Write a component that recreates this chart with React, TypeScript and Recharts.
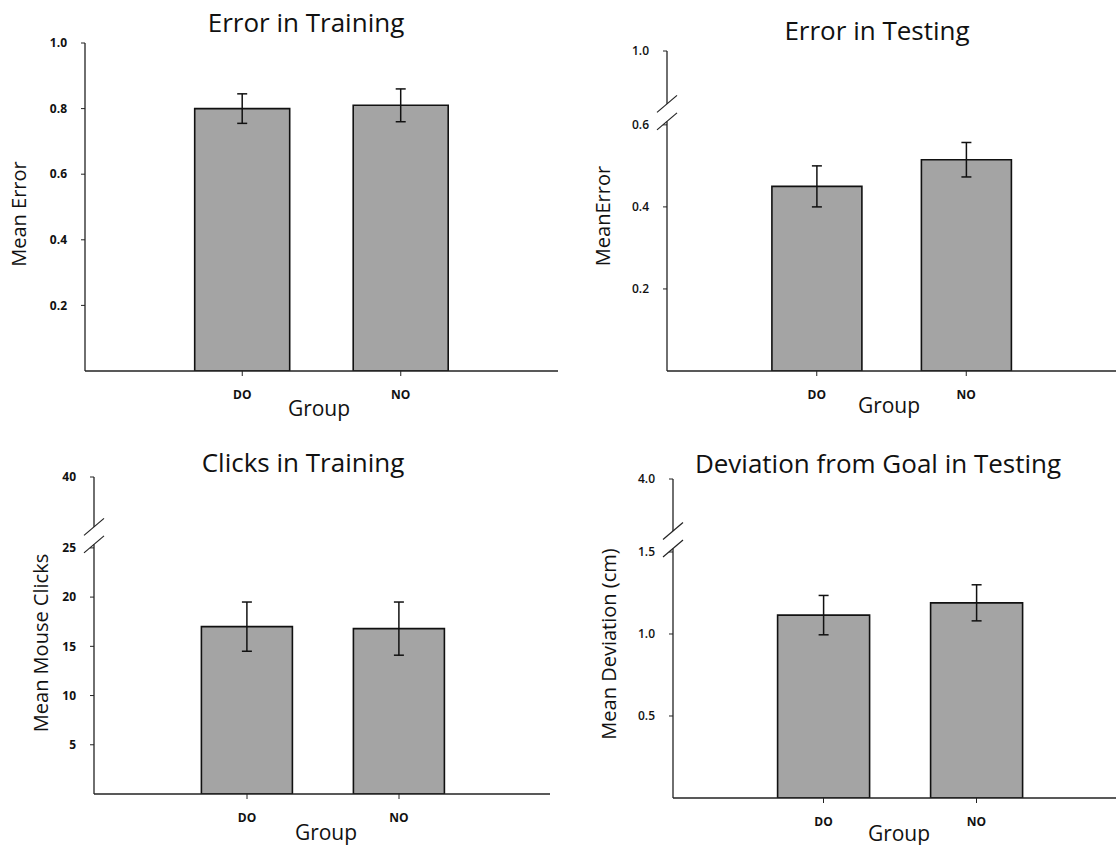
import React from 'react';
import { BarChart, Bar, XAxis, YAxis, ErrorBar } from 'recharts';

// Groups on the x axis
const groups = ['DO', 'NO'];

// Error in Training (mean, error-bar half width)
const trainErrMean = [0.8, 0.81];
const trainErrSE = [0.045, 0.05];

// Error in Testing
const testErrMean = [0.45, 0.515];
const testErrSE = [0.05, 0.042];

// Clicks in Training
const clicksMean = [17.0, 16.8];
const clicksSE = [2.5, 2.7];

// Deviation from Goal in Testing
const devMean = [1.115, 1.19];
const devSE = [0.12, 0.11];

// Y ticks and their printed labels. The last tick of a broken axis sits
// above the break, so its position is on the compressed part of the axis.
const trainErrTicks = [0.2, 0.4, 0.6, 0.8, 1.0];
const trainErrTickLabels = ['0.2', '0.4', '0.6', '0.8', '1.0'];
const testErrTicks = [0.2, 0.4, 0.6, 0.78];
const testErrTickLabels = ['0.2', '0.4', '0.6', '1.0'];
const clicksTicks = [5, 10, 15, 20, 25, 32.2];
const clicksTickLabels = ['5', '10', '15', '20', '25', '40'];
const devTicks = [0.5, 1.0, 1.5, 1.945];
const devTickLabels = ['0.5', '1.0', '1.5', '4.0'];

const FONT = '"Open Sans", "Noto Sans", sans-serif';
const INK = '#111';
const AXIS = '#222';
const BAR_FILL = '#a4a4a4';

const Y_TICK_SIZE = 4;
const Y_TICK_MARGIN = 14;

interface PanelProps {
  title: string;
  yLabel: string;
  means: number[];
  errs: number[];
  ticks: number[];
  tickLabels: string[];
  broken: boolean;
  left: number;
  top: number;
  width: number;
  height: number;
  marginTop: number;
  marginRight: number;
  yAxisWidth: number;
  xAxisHeight: number;
  padLeft: number;
  padRight: number;
  tickWeight: number;
  titleX: number;
  titleY: number;
  yLabelX: number;
  yLabelY: number;
  groupX: number;
  groupY: number;
}

function Panel(p: PanelProps) {
  const data = groups.map((g, i) => ({ group: g, mean: p.means[i], err: p.errs[i] }));
  const breakTick = p.broken ? p.ticks[p.ticks.length - 2] : null;

  const renderYTick = (t: any) => {
    const { x, y, payload } = t;
    const idx = p.ticks.indexOf(payload.value);
    const axisX = x + Y_TICK_SIZE + Y_TICK_MARGIN;
    return (
      <g>
        <text x={x} y={y} dy="0.35em" textAnchor="end" fontSize={12} fontWeight={p.tickWeight}
          fontFamily={FONT} fill={INK}>
          {p.tickLabels[idx]}
        </text>
        {payload.value === breakTick && (
          <g>
            <rect x={axisX - 3} y={y - 21} width={6} height={17.5} fill="#fff" />
            <line x1={axisX - 10} y1={y - 21 + 8.5} x2={axisX + 10} y2={y - 21 - 8.5} stroke={AXIS} strokeWidth={1.2} />
            <line x1={axisX - 10} y1={y - 3.5 + 8.5} x2={axisX + 10} y2={y - 3.5 - 8.5} stroke={AXIS} strokeWidth={1.2} />
          </g>
        )}
      </g>
    );
  };

  return (
    <>
      <div style={{ position: 'absolute', left: p.left, top: p.top }}>
        <BarChart
          width={p.width}
          height={p.height}
          data={data}
          margin={{ top: p.marginTop, right: p.marginRight, left: 0, bottom: 0 }}
          barCategoryGap="20%"
        >
          <XAxis
            dataKey="group"
            height={p.xAxisHeight}
            padding={{ left: p.padLeft, right: p.padRight }}
            interval={0}
            tickSize={5}
            tickMargin={14}
            tick={{ fontSize: 12, fontWeight: 700, fill: INK, fontFamily: FONT }}
            axisLine={{ stroke: AXIS, strokeWidth: 1.3 }}
            tickLine={{ stroke: AXIS }}
          />
          <YAxis
            type="number"
            domain={[0, p.ticks[p.ticks.length - 1]]}
            ticks={p.ticks}
            interval={0}
            allowDataOverflow
            width={p.yAxisWidth}
            tickSize={Y_TICK_SIZE}
            tickMargin={Y_TICK_MARGIN}
            tick={renderYTick}
            axisLine={{ stroke: AXIS, strokeWidth: 1.3 }}
            tickLine={{ stroke: AXIS }}
          />
          <Bar dataKey="mean" fill={BAR_FILL} stroke={INK} strokeWidth={1.6} isAnimationActive={false}>
            <ErrorBar dataKey="err" width={5} stroke={INK} strokeWidth={1.5} isAnimationActive={false} />
          </Bar>
        </BarChart>
      </div>
      <div style={{
        position: 'absolute', left: p.titleX, top: p.titleY, transform: 'translate(-50%, -50%)',
        fontSize: 26, lineHeight: 1, whiteSpace: 'nowrap', color: INK,
      }}>
        {p.title}
      </div>
      <div style={{
        position: 'absolute', left: p.yLabelX, top: p.yLabelY,
        transform: 'translate(-50%, -50%) rotate(-90deg)',
        fontSize: 20, lineHeight: 1, whiteSpace: 'nowrap', color: INK,
      }}>
        {p.yLabel}
      </div>
      <div style={{
        position: 'absolute', left: p.groupX, top: p.groupY, transform: 'translate(-50%, -50%)',
        fontSize: 21, lineHeight: 1, whiteSpace: 'nowrap', color: INK,
      }}>
        Group
      </div>
    </>
  );
}

export default function App() {
  return (
    <div style={{
      position: 'absolute', left: 0, top: 0, width: 1116, height: 845,
      background: '#fff', fontFamily: FONT, overflow: 'hidden',
    }}>
      <Panel
        title="Error in Training" yLabel="Mean Error"
        means={trainErrMean} errs={trainErrSE}
        ticks={trainErrTicks} tickLabels={trainErrTickLabels} broken={false}
        left={0} top={0} width={560} height={425}
        marginTop={43} marginRight={2} yAxisWidth={85} xAxisHeight={54}
        padLeft={78} padRight={78} tickWeight={700}
        titleX={306} titleY={22} yLabelX={19} yLabelY={214} groupX={319} groupY={408}
      />
      <Panel
        title="Error in Testing" yLabel="MeanError"
        means={testErrMean} errs={testErrSE}
        ticks={testErrTicks} tickLabels={testErrTickLabels} broken={true}
        left={560} top={0} width={556} height={425}
        marginTop={51} marginRight={0} yAxisWidth={107} xAxisHeight={54}
        padLeft={75} padRight={75} tickWeight={600}
        titleX={877} titleY={30} yLabelX={603} yLabelY={216} groupX={889} groupY={405}
      />
      <Panel
        title="Clicks in Training" yLabel="Mean Mouse Clicks"
        means={clicksMean} errs={clicksSE}
        ticks={clicksTicks} tickLabels={clicksTickLabels} broken={true}
        left={0} top={425} width={560} height={420}
        marginTop={52} marginRight={10} yAxisWidth={94} xAxisHeight={51}
        padLeft={77} padRight={75} tickWeight={700}
        titleX={303} titleY={462} yLabelX={41} yLabelY={643} groupX={326} groupY={832}
      />
      <Panel
        title="Deviation from Goal in Testing" yLabel="Mean Deviation (cm)"
        means={devMean} errs={devSE}
        ticks={devTicks} tickLabels={devTickLabels} broken={true}
        left={560} top={425} width={556} height={420}
        marginTop={54} marginRight={0} yAxisWidth={113} xAxisHeight={47}
        padLeft={74} padRight={63} tickWeight={600}
        titleX={878} titleY={463} yLabelX={609} yLabelY={644} groupX={899} groupY={833}
      />
    </div>
  );
}
